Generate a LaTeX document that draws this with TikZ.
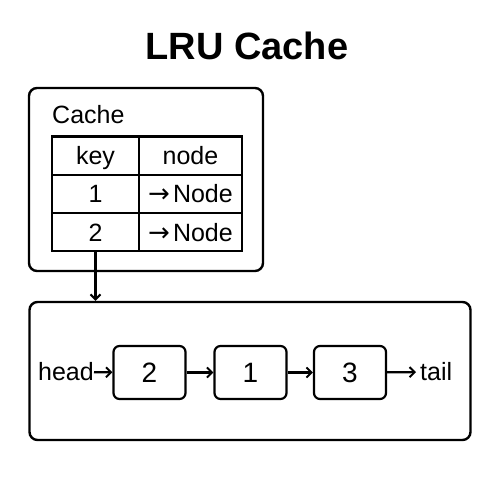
\documentclass[tikz,border=0pt]{standalone}
\usepackage{fontspec}
\setmainfont{Liberation Sans}
\newfontfamily\arrowfont{DejaVu Sans}
\usepackage{tikz}
\usetikzlibrary{arrows.meta}

\tikzset{
  box/.style={draw,line width=2.4pt,rounded corners=8pt},
  cell/.style={draw,line width=2.2pt,minimum height=38.3pt,inner sep=0pt,text height=20pt,text depth=2pt,font=\fontsize{25}{25}\selectfont},
  item/.style={draw,line width=2.2pt,rounded corners=6pt,minimum width=72pt,minimum height=53pt,inner sep=0pt,font=\fontsize{28}{28}\selectfont},
  lbl/.style={inner sep=0pt,font=\fontsize{25}{25}\selectfont},
  link/.style={line width=2.2pt,-{Straight Barb[length=5pt,width=10pt,line width=2pt]}}
}
\newcommand{\ptr}{{\arrowfont\fontsize{26}{26}\selectfont→}\hspace{3pt}}

\begin{document}
\begin{tikzpicture}[x=1pt,y=-1pt]
\useasboundingbox (0,0) rectangle (500,500);
\node (title) at (247,46) [inner sep=0pt,font=\fontsize{38}{38}\selectfont\bfseries] {LRU Cache};
% hash map
\draw[box] (29,88) rectangle (263,271);
\node (name) at (52,123) [lbl,anchor=base west] {Cache};
\node (k0) at (95.5,155.6) [cell,minimum width=87pt] {key};
\node (v0) at (190.5,155.6) [cell,minimum width=103pt] {node};
\node (k1) at (95.5,193.9) [cell,minimum width=87pt] {1};
\node (v1) at (190.5,193.9) [cell,minimum width=103pt] {\ptr Node};
\node (k2) at (95.5,232.2) [cell,minimum width=87pt] {2};
\node (v2) at (190.5,232.2) [cell,minimum width=103pt] {\ptr Node};
% linked list
\node (list) at (250,371) [box,minimum width=441pt,minimum height=138pt] {};
\node (head) at (94,372) [lbl,anchor=east] {head};
\node (n2) at (149.5,372.5) [item] {2};
\node (n1) at (250.5,372.5) [item] {1};
\node (n3) at (350,372.5) [item] {3};
\node (tail) at (420,372) [lbl,anchor=west] {tail};
\draw[link] (k2.south) -- (k2.south |- list.north);
\draw[link] (head) -- (n2);
\draw[link] (n2) -- (n1);
\draw[link] (n1) -- (n3);
\draw[link,shorten >=4pt] (n3) -- (tail);
\end{tikzpicture}
\end{document}
